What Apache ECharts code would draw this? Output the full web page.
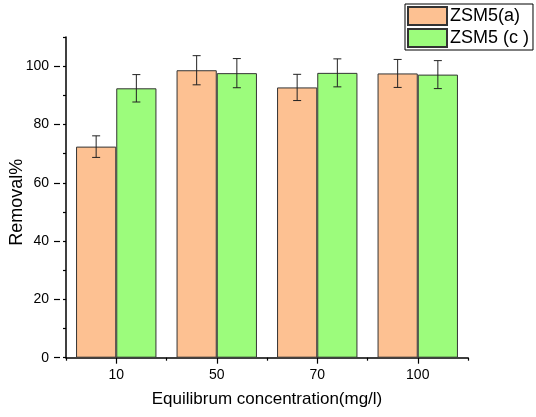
<!DOCTYPE html>
<html lang="en">
<head>
	<meta charset="UTF-8">
	<title>Removal</title>
	<script src="https://cdn.jsdelivr.net/npm/echarts@6/dist/echarts.min.js"></script>
	<style>
		html, body { margin: 0; padding: 0; background: #fff; }
		#chart { width: 536px; height: 417px; }
	</style>
</head>
<body>
<div id="chart"></div>
<script>
	// data
	var categories = ['10', '50', '70', '100'];
	var removalA = [72.4, 98.6, 92.7, 97.5];
	var removalC = [92.4, 97.6, 97.7, 97.1];
	var errA = [3.7, 5.0, 4.5, 4.8];
	var errC = [4.7, 5.0, 4.8, 4.8];
	var seriesNames = ['ZSM5(a)', 'ZSM5 (c )'];

	var font = "'Liberation Sans', Arial, sans-serif";
	var colA = '#fdc192';
	var colC = '#9cfc7c';

	// error bar: offset is the bar centre as a share of the category band
	function errorSeries(values, errs, offset) {
		var d = values.map(function (v, i) { return [i, v, errs[i]]; });
		return {
			type: 'custom',
			xAxisIndex: 0,
			yAxisIndex: 0,
			silent: true,
			z: 10,
			data: d,
			renderItem: function (params, api) {
				var x = api.value(0);
				var band = api.size([1, 0])[0];
				var top = api.coord([x, api.value(1) + api.value(2)]);
				var bot = api.coord([x, api.value(1) - api.value(2)]);
				var cx = top[0] + band * offset;
				var hw = 4;
				var st = { stroke: '#222', lineWidth: 1 };
				return {
					type: 'group',
					children: [
						{ type: 'line', shape: { x1: cx, y1: top[1], x2: cx, y2: bot[1] }, style: st },
						{ type: 'line', shape: { x1: cx - hw, y1: top[1], x2: cx + hw, y2: top[1] }, style: st },
						{ type: 'line', shape: { x1: cx - hw, y1: bot[1], x2: cx + hw, y2: bot[1] }, style: st }
					]
				};
			}
		};
	}

	var myChart = echarts.init(document.getElementById('chart'));
	var option = {
		backgroundColor: '#fff',
		animation: false,
		textStyle: { fontFamily: font, color: '#000' },
		legend: {
			orient: 'vertical',
			left: 405,
			top: 4,
			padding: [2, 4, 2, 2],
			itemGap: 2,
			itemWidth: 39,
			itemHeight: 18,
			borderColor: '#000',
			borderWidth: 1,
			borderRadius: 0,
			icon: 'rect',
			textStyle: { fontFamily: font, fontSize: 18, color: '#000', padding: [0, 0, 0, -2] },
			data: seriesNames
		},
		grid: [
			{ left: 60, right: 68, top: 37, bottom: 59.3 },
			{ left: 60, right: 68, top: 66.2, bottom: 59.3 }
		],
		xAxis: [
			{
				type: 'category',
				gridIndex: 0,
				data: categories,
				boundaryGap: true,
				name: 'Equilibrum concentration(mg/l)',
				nameLocation: 'middle',
				nameGap: 33,
				nameTextStyle: { fontFamily: font, fontSize: 17, color: '#000' },
				axisLine: { lineStyle: { color: '#000', width: 1.5 } },
				axisTick: { show: true, length: 3, lineStyle: { color: '#000', width: 1.2 } },
				axisLabel: { fontFamily: font, fontSize: 14, color: '#000', margin: 10 },
				splitLine: { show: false }
			},
			{
				type: 'category',
				gridIndex: 0,
				position: 'bottom',
				data: categories,
				axisLine: { show: false },
				axisTick: { show: true, alignWithLabel: true, length: 6, lineStyle: { color: '#000', width: 1.2 } },
				axisLabel: { show: false },
				splitLine: { show: false }
			},
			{
				type: 'category',
				gridIndex: 1,
				data: categories,
				show: false
			}
		],
		yAxis: [
			{
				type: 'value',
				gridIndex: 0,
				min: 0,
				max: 110,
				interval: 10,
				name: 'Removal%',
				nameLocation: 'middle',
				nameGap: 40,
				nameTextStyle: { fontFamily: font, fontSize: 18, color: '#000', padding: [0, 0, 0, -10] },
				axisLine: { show: true, lineStyle: { color: '#000', width: 1.5 } },
				axisTick: { show: true, length: 3, lineStyle: { color: '#000', width: 1.2 } },
				axisLabel: { show: false },
				splitLine: { show: false }
			},
			{
				type: 'value',
				gridIndex: 1,
				min: 0,
				max: 100,
				interval: 20,
				axisLine: { show: false },
				axisTick: { show: true, length: 6, lineStyle: { color: '#000', width: 1.2 } },
				axisLabel: { fontFamily: font, fontSize: 14, color: '#000', margin: 11 },
				splitLine: { show: false }
			}
		],
		series: [
			{
				name: seriesNames[0],
				type: 'bar',
				xAxisIndex: 0,
				yAxisIndex: 0,
				barGap: '0%',
				barCategoryGap: '20%',
				itemStyle: { color: colA, borderColor: '#333', borderWidth: 1 },
				data: removalA
			},
			{
				name: seriesNames[1],
				type: 'bar',
				xAxisIndex: 0,
				yAxisIndex: 0,
				barGap: '0%',
				barCategoryGap: '20%',
				itemStyle: { color: colC, borderColor: '#333', borderWidth: 1 },
				data: removalC
			},
			errorSeries(removalA, errA, -0.2),
			errorSeries(removalC, errC, 0.2)
		]
	};
	myChart.setOption(option);
</script>
</body>
</html>
